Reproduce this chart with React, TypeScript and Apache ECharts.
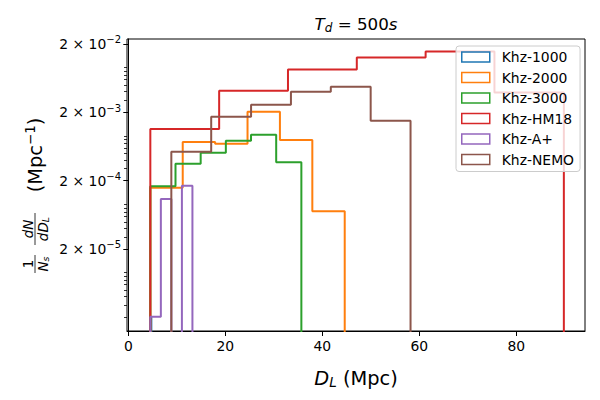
import React, { useEffect, useRef } from "react";
import * as echarts from "echarts";

const seriesNames = ["Khz-1000", "Khz-2000", "Khz-3000", "Khz-HM18", "Khz-A+", "Khz-NEMO"];
const seriesColors = ["#1f77b4", "#ff7f0e", "#2ca02c", "#d62728", "#9467bd", "#8c564b"];

const edges1000 = [4.54, 4.75];
const values1000 = [2.03e-6];
const edges2000 = [4.54, 11.22, 17.9, 24.58, 31.26, 37.94, 44.62];
const values2000 = [1.57e-4, 7.35e-4, 6.94e-4, 2.04e-3, 7.86e-4, 7.11e-5];
const edges3000 = [4.54, 9.73, 14.92, 20.11, 25.3, 30.49, 35.68];
const values3000 = [1.65e-4, 3.53e-4, 5.12e-4, 7.68e-4, 9.4e-4, 3.71e-4];
const edgesHM18 = [4.54, 18.73, 32.92, 47.11, 61.3, 75.49, 89.8];
const valuesHM18 = [1.138e-3, 4.14e-3, 8.47e-3, 1.27e-2, 1.55e-2, 3.9e-3];
const edgesAplus = [4.54, 6.71, 8.88, 11.05, 13.22];
const valuesAplus = [2.03e-6, 1.08e-4, 0, 1.68e-4];
const edgesNEMO = [8.87, 17.09, 25.31, 33.53, 41.75, 49.97, 58.19];
const valuesNEMO = [5.3e-4, 1.725e-3, 2.58e-3, 4.01e-3, 4.72e-3, 1.5e-3];

const xTicks = [0, 20, 40, 60, 80];
const yMajorTicks = [2e-5, 2e-4, 2e-3, 2e-2];
const yMinorTicks = [
  2e-6, 3e-6, 4e-6, 5e-6, 6e-6, 7e-6, 8e-6, 9e-6,
  2e-5, 3e-5, 4e-5, 5e-5, 6e-5, 7e-5, 8e-5, 9e-5,
  2e-4, 3e-4, 4e-4, 5e-4, 6e-4, 7e-4, 8e-4, 9e-4,
  2e-3, 3e-3, 4e-3, 5e-3, 6e-3, 7e-3, 8e-3, 9e-3,
  2e-2,
];

const X_MIN = -0.27;
const X_MAX = 94.16;
const Y_MIN = 1.259e-6;
const Y_MAX = 0.02366;
const FLOOR = 1e-9;

const FONT = "DejaVu Sans";

function stepPoints(edges: number[], values: number[]) {
  const pts: number[][] = [[edges[0], FLOOR]];
  for (let i = 0; i < values.length; i++) {
    const v = values[i] > 0 ? values[i] : FLOOR;
    pts.push([edges[i], v], [edges[i + 1], v]);
  }
  pts.push([edges[edges.length - 1], FLOOR]);
  return pts;
}

const allEdges = [edges1000, edges2000, edges3000, edgesHM18, edgesAplus, edgesNEMO];
const allValues = [values1000, values2000, values3000, valuesHM18, valuesAplus, valuesNEMO];

export default function App() {
  const ref = useRef<HTMLDivElement>(null);
  useEffect(() => {
    if (!ref.current) return;
    const chart = echarts.init(ref.current, undefined, { renderer: "svg" });
    const supRich = {
      n: { fontSize: 13.9, fontFamily: FONT, color: "#000" },
      sup: { fontSize: 10, fontFamily: FONT, color: "#000", padding: [0, 0, 8, 0] },
    };
    const fracI = { fontSize: 13.5, fontStyle: "italic", fontFamily: FONT, fill: "#000" };
    const fracSub = { fontSize: 9.5, fontStyle: "italic", fontFamily: FONT, fill: "#000", padding: [5, 0, 0, 0] };
    const option: any = {
      animation: false,
      backgroundColor: "#fff",
      grid: {
        left: 127,
        right: 15,
        top: 39,
        bottom: 69,
        show: true,
        borderColor: "#000",
        borderWidth: 1,
        backgroundColor: "transparent",
      },
      xAxis: {
        type: "value",
        min: X_MIN,
        max: X_MAX,
        name: "{i|D}{sub|L}{n| (Mpc)}",
        nameLocation: "middle",
        nameGap: 36,
        nameTextStyle: {
          rich: {
            i: { fontSize: 19.4, fontStyle: "italic", fontFamily: FONT, color: "#000" },
            sub: { fontSize: 13.5, fontStyle: "italic", fontFamily: FONT, color: "#000", padding: [8, 0, 0, 0] },
            n: { fontSize: 19.4, fontFamily: FONT, color: "#000" },
          },
        },
        axisLine: { show: true, onZero: false, lineStyle: { color: "#000", width: 1 } },
        axisTick: { show: true, customValues: xTicks, length: 5, lineStyle: { color: "#000", width: 1 } },
        axisLabel: { customValues: xTicks, fontSize: 13.9, fontFamily: FONT, color: "#000", margin: 8 },
        splitLine: { show: false },
      },
      yAxis: [
        {
          type: "log",
          logBase: 10,
          min: Y_MIN,
          max: Y_MAX,
          position: "left",
          axisLine: { show: true, lineStyle: { color: "#000", width: 1 } },
          axisTick: { show: true, customValues: yMajorTicks, length: 5, lineStyle: { color: "#000", width: 1 } },
          axisLabel: {
            customValues: yMajorTicks,
            margin: 6,
            formatter: (v: number) => {
              const e = Math.round(Math.log10(v / 2));
              return "{n|2 × 10}{sup|−" + Math.abs(e) + "}";
            },
            rich: supRich,
          },
          splitLine: { show: false },
          minorTick: { show: false },
        },
        {
          type: "log",
          logBase: 10,
          min: Y_MIN,
          max: Y_MAX,
          position: "left",
          axisLine: { show: false },
          axisTick: { show: true, customValues: yMinorTicks, length: 3, lineStyle: { color: "#000", width: 0.8 } },
          axisLabel: { show: false },
          splitLine: { show: false },
        },
      ],
      legend: {
        orient: "vertical",
        left: 456,
        top: 46,
        itemWidth: 28,
        itemHeight: 10,
        itemGap: 6.5,
        padding: [4, 6, 5, 5],
        backgroundColor: "rgba(255,255,255,0.8)",
        borderColor: "#cccccc",
        borderWidth: 1,
        borderRadius: 3,
        selectedMode: false,
        textStyle: { fontSize: 13.9, fontFamily: FONT, color: "#000", padding: [0, 0, 0, 7] },
        data: seriesNames.map((name, i) => ({
          name,
          icon: "rect",
          itemStyle: { color: "rgba(0,0,0,0)", borderColor: seriesColors[i], borderWidth: 1.5 },
        })),
      },
      series: seriesNames.map((name, i) => ({
        name,
        type: "line",
        yAxisIndex: 0,
        data: stepPoints(allEdges[i], allValues[i]),
        symbol: "none",
        showSymbol: false,
        clip: true,
        color: seriesColors[i],
        lineStyle: { color: seriesColors[i], width: 2 },
      })),
      graphic: [
        {
          type: "text",
          x: 356,
          y: 24,
          style: {
            text: "{i|T}{sub|d}{n| = 500}{i|s}",
            align: "center",
            verticalAlign: "middle",
            rich: {
              i: { fontSize: 16.7, fontStyle: "italic", fontFamily: FONT, fill: "#000" },
              sub: { fontSize: 12, fontStyle: "italic", fontFamily: FONT, fill: "#000", padding: [7, 0, 0, 0] },
              n: { fontSize: 16.7, fontFamily: FONT, fill: "#000" },
            },
          },
        },
        {
          type: "text",
          x: 35,
          y: 155,
          rotation: Math.PI / 2,
          style: {
            text: "{n|(Mpc}{sup|−1}{n|)}",
            align: "center",
            verticalAlign: "middle",
            rich: {
              n: { fontSize: 19.4, fontFamily: FONT, fill: "#000" },
              sup: { fontSize: 13.5, fontFamily: FONT, fill: "#000", padding: [0, 0, 10, 0] },
            },
          },
        },
        {
          type: "text",
          x: 28,
          y: 229,
          rotation: Math.PI / 2,
          style: { text: "dN", ...fracI, align: "center", verticalAlign: "middle" },
        },
        {
          type: "text",
          x: 43,
          y: 229,
          rotation: Math.PI / 2,
          style: {
            text: "{i|dD}{sub|L}",
            align: "center",
            verticalAlign: "middle",
            rich: { i: fracI, sub: fracSub },
          },
        },
        {
          type: "line",
          shape: { x1: 35, y1: 213, x2: 35, y2: 245 },
          style: { stroke: "#000", lineWidth: 0.8 },
        },
        {
          type: "text",
          x: 28,
          y: 264,
          rotation: Math.PI / 2,
          style: { text: "1", fontSize: 13.5, fontFamily: FONT, fill: "#000", align: "center", verticalAlign: "middle" },
        },
        {
          type: "text",
          x: 43,
          y: 264,
          rotation: Math.PI / 2,
          style: {
            text: "{i|N}{sub|s}",
            align: "center",
            verticalAlign: "middle",
            rich: { i: fracI, sub: fracSub },
          },
        },
        {
          type: "line",
          shape: { x1: 35, y1: 255, x2: 35, y2: 273 },
          style: { stroke: "#000", lineWidth: 0.8 },
        },
      ],
    };
    chart.setOption(option);
    return () => chart.dispose();
  }, []);
  return <div ref={ref} style={{ position: "fixed", left: 0, top: 0, width: 600, height: 400 }} />;
}
